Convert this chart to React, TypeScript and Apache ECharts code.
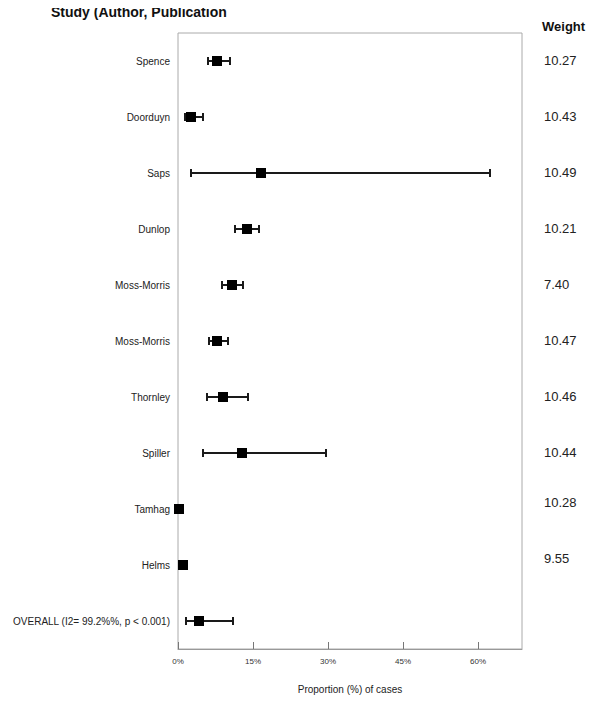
import React, { useEffect, useRef } from "react";
import * as echarts from "echarts";

const studies = [
  "Spence",
  "Doorduyn",
  "Saps",
  "Dunlop",
  "Moss-Morris",
  "Moss-Morris",
  "Thornley",
  "Spiller",
  "Tamhag",
  "Helms",
  "OVERALL (I2= 99.2%%, p < 0.001)",
];
const estimates = [7.8, 2.6, 16.6, 13.8, 10.8, 7.8, 9.0, 12.8, 0.2, 1.0, 4.2];
const lower = [6.0, 1.4, 2.6, 11.4, 8.8, 6.2, 5.8, 5.0, 0.0, 0.6, 1.6];
const upper = [10.4, 5.0, 62.4, 16.2, 13.0, 10.0, 14.0, 29.6, 0.5, 1.4, 11.0];
const weights = ["10.27", "10.43", "10.49", "10.21", "7.40", "10.47", "10.46", "10.44", "10.28", "9.55", ""];
const xTicks = [0, 15, 30, 45, 60];

export default function App() {
  const ref = useRef<HTMLDivElement>(null);
  useEffect(() => {
    if (!ref.current) return;
    const chart = echarts.init(ref.current, null, { renderer: "svg" });
    const data = studies.map((_, i) => [i, lower[i], upper[i], estimates[i]]);
    const font = "'Liberation Sans', Arial, sans-serif";
    chart.setOption({
      animation: false,
      title: [
        {
          text: "Study (Author, Publication",
          left: 51,
          top: 5,
          padding: 0,
          textStyle: { fontSize: 14, fontWeight: "bold", color: "#111", fontFamily: font },
        },
        {
          text: "Weight",
          left: 542,
          top: 20,
          padding: 0,
          textStyle: { fontSize: 13, fontWeight: "bold", color: "#111", fontFamily: font },
        },
      ],
      grid: {
        left: 178,
        top: 33,
        right: 78,
        bottom: 54,
        show: true,
        borderColor: "#aaa",
        borderWidth: 1,
      },
      xAxis: {
        type: "value",
        min: 0,
        max: 68.8,
        interval: 15,
        name: "Proportion (%) of cases",
        nameLocation: "middle",
        nameGap: 35,
        nameTextStyle: { fontSize: 10, color: "#222", fontFamily: font },
        axisLine: { show: true, lineStyle: { color: "#999" } },
        axisTick: { show: true, inside: true, length: 7, lineStyle: { color: "#777" } },
        axisLabel: {
          fontSize: 8,
          color: "#333",
          fontFamily: font,
          margin: 8,
          showMaxLabel: false,
          formatter: (v: number) => (xTicks.includes(v) ? `${v}%` : ""),
        },
        splitLine: { show: false },
      },
      yAxis: [
        {
          type: "category",
          data: studies,
          inverse: true,
          axisLine: { show: false },
          axisTick: { show: false },
          axisLabel: {
            fontSize: 10,
            color: "#222",
            fontFamily: font,
            margin: 8,
            formatter: (_v: string, idx: number) => studies[idx],
          },
        },
        {
          type: "category",
          data: studies,
          inverse: true,
          position: "right",
          axisLine: { show: false },
          axisTick: { show: false },
          axisLabel: {
            fontSize: 13,
            color: "#222",
            fontFamily: font,
            margin: 22,
            align: "left",
            formatter: (_v: string, idx: number) =>
              idx >= 8 ? `{up|${weights[idx]}}` : `{n|${weights[idx]}}`,
            rich: {
              n: { fontSize: 13, color: "#222", fontFamily: font, padding: [0, 0, 2, 0] },
              up: { fontSize: 13, color: "#222", fontFamily: font, padding: [0, 0, 14, 0] },
            },
          },
        },
      ],
      series: [
        {
          type: "custom",
          clip: false,
          encode: { x: [1, 2, 3], y: 0 },
          data,
          renderItem: (_params: any, api: any) => {
            const row = api.value(0);
            const lo = api.value(1);
            const hi = api.value(2);
            const est = api.value(3);
            const pLo = api.coord([lo, row]);
            const pHi = api.coord([hi, row]);
            const pE = api.coord([est, row]);
            const y = pE[1];
            const s = 10;
            const cap = 4;
            const stroke = { stroke: "#1a1a1a", lineWidth: 2 };
            const children: any[] = [];
            if (pHi[0] - pLo[0] > 6) {
              children.push(
                { type: "line", shape: { x1: pLo[0], y1: y, x2: pHi[0], y2: y }, style: stroke },
                { type: "line", shape: { x1: pLo[0], y1: y - cap, x2: pLo[0], y2: y + cap }, style: stroke },
                { type: "line", shape: { x1: pHi[0], y1: y - cap, x2: pHi[0], y2: y + cap }, style: stroke }
              );
            }
            children.push({
              type: "rect",
              shape: { x: pE[0] - s / 2, y: y - s / 2, width: s, height: s },
              style: { fill: "#000" },
            });
            return { type: "group", children };
          },
        },
      ],
    });
    return () => chart.dispose();
  }, []);
  return <div ref={ref} style={{ width: 600, height: 703, margin: -8, background: "#fff" }} />;
}
